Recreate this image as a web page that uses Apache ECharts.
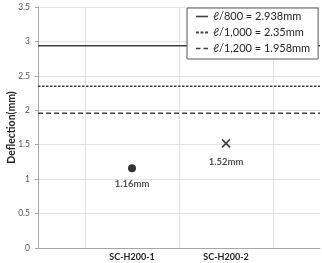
<!DOCTYPE html>
<html>
<head>
<meta charset="utf-8">
<script src="https://cdn.jsdelivr.net/npm/echarts@6/dist/echarts.min.js"></script>
<style>html,body{margin:0;padding:0;background:#fff}#c{width:322px;height:263px}</style>
</head>
<body>
<div id="c"></div>
<script>
// Data
var categories = ['SC-H200-1', 'SC-H200-2'];
var specimenValues = [1.16, 1.52];
var limitNames = ['ℓ/800 = 2.938mm', 'ℓ/1,000 = 2.35mm', 'ℓ/1,200 = 1.958mm'];
var limitValues = [2.938, 2.35, 1.958];
var yTicks = ['0', '0.5', '1', '1.5', '2', '2.5', '3', '3.5'];

// Styles
var FONT = 'Lato';
var LINE_COLOR = '#404040';
var limitTypes = ['solid', [2.5, 1.5], [5, 3]];
var legendIcons = [
  'path://M0,5h12v1.6h-12z',
  'path://M0,5h2.5v1.6h-2.5z M4,5h2.5v1.6h-2.5z M8,5h2.5v1.6h-2.5z',
  'path://M0,5h4.5v1.6h-4.5z M7.5,5h4.5v1.6h-4.5z'
];

var xMax = categories.length * 2 + 2;
var xTickLabels = [];
for (var k = 0; k <= xMax; k++) xTickLabels.push('');
categories.forEach(function (c, i) { xTickLabels[(i + 1) * 2] = c; });

var series = [];
limitNames.forEach(function (n, i) {
  series.push({
    name: n, type: 'line', symbol: 'none', silent: true, color: LINE_COLOR,
    lineStyle: { color: LINE_COLOR, width: 1.6, type: limitTypes[i] },
    data: [[0, limitValues[i]], [xMax, limitValues[i]]]
  });
});
categories.forEach(function (c, i) {
  series.push({
    name: c, type: 'scatter',
    symbol: i === 0 ? 'circle' : 'path://M0,0 L10,10 M10,0 L0,10',
    symbolSize: 8,
    itemStyle: i === 0 ? { color: '#000' } : { color: 'none', borderColor: '#111', borderWidth: 1.6 },
    label: {
      show: true, position: 'bottom', distance: 7,
      formatter: function (p) { return p.value[1].toFixed(2) + 'mm'; },
      fontFamily: FONT, fontWeight: 'bold', fontSize: 9.5, color: '#262626'
    },
    data: [[(i + 1) * 2, specimenValues[i]]]
  });
});

var chart = echarts.init(document.getElementById('c'));
chart.setOption({
  animation: false,
  backgroundColor: '#fff',
  grid: { left: 38, right: 2, top: 7, bottom: 15, containLabel: false, outerBoundsMode: 'none' },
  legend: {
    data: limitNames.map(function (n, i) { return { name: n, icon: legendIcons[i] }; }),
    orient: 'vertical', left: 187, top: 8, width: 131,
    backgroundColor: '#fff', borderColor: '#595959', borderWidth: 1,
    padding: [3, 8, 5, 9], itemGap: 5, itemWidth: 12, itemHeight: 12,
    itemStyle: { color: LINE_COLOR, borderWidth: 0 },
    textStyle: { fontFamily: FONT, fontSize: 11, color: '#262626' }
  },
  xAxis: {
    type: 'value', min: 0, max: xMax, interval: 1,
    axisLine: { show: true, lineStyle: { color: '#a6a6a6' } },
    axisTick: { show: false },
    axisLabel: {
      formatter: function (v) { return xTickLabels[Math.round(v)] || ''; },
      fontFamily: FONT, fontWeight: 'bold', fontSize: 9, color: '#262626', margin: 5
    },
    splitLine: { show: true, lineStyle: { color: ['rgba(0,0,0,0)', '#e3e3e3'], width: 1 } }
  },
  yAxis: {
    type: 'value', min: 0, max: 3.5, interval: 0.5,
    name: 'Deflection(mm)', nameLocation: 'middle', nameGap: 21, nameMoveOverlap: false,
    nameTextStyle: { fontFamily: FONT, fontWeight: 'bold', fontSize: 10.5, color: '#262626' },
    axisLine: { show: true, lineStyle: { color: '#a6a6a6' } },
    axisTick: { show: true, length: 3, lineStyle: { color: '#a6a6a6' } },
    axisLabel: {
      formatter: function (v) { return yTicks[Math.round(v * 2)]; },
      fontFamily: FONT, fontSize: 8.5, color: '#595959', margin: 8
    },
    splitLine: { show: true, lineStyle: { color: '#e3e3e3', width: 1 } }
  },
  series: series
});
</script>
</body>
</html>
